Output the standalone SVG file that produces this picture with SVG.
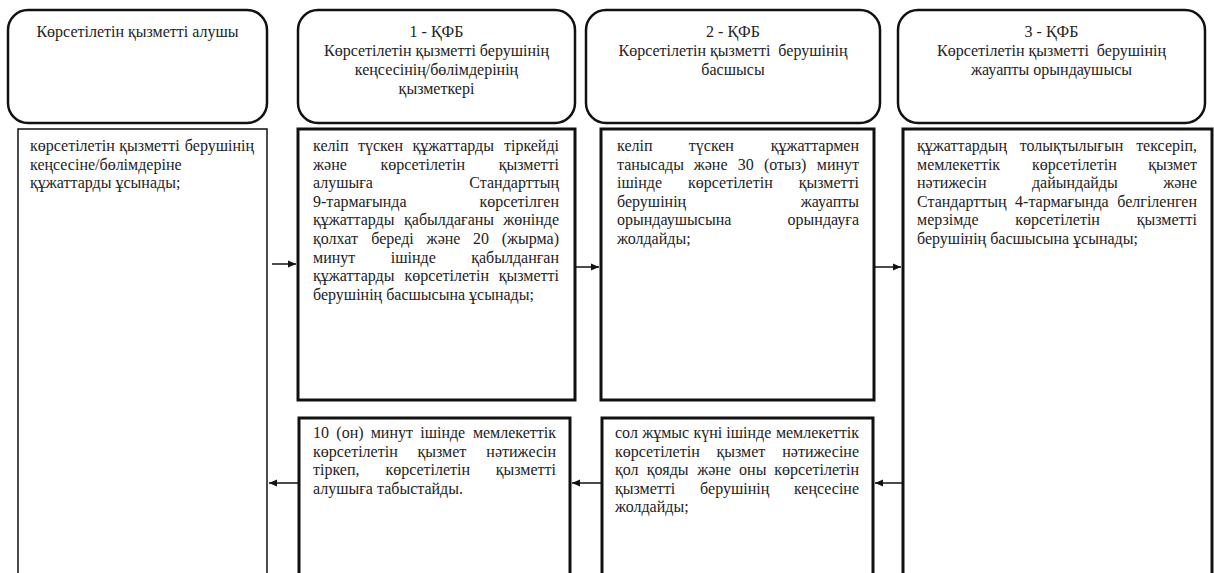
<svg xmlns="http://www.w3.org/2000/svg" width="1214" height="573" viewBox="0 0 1214 573">
<style>
.hdr{fill:#fff;stroke:#111;stroke-width:2.5}
.box{fill:#fff;stroke:#111;stroke-width:3}
.thin{stroke-width:1.5}
.t{font-family:"Liberation Serif","Times New Roman",serif;font-size:16px;fill:#222;white-space:pre}
.c{text-anchor:middle}
.con line{stroke:#111;stroke-width:1.5;marker-end:url(#ah)}
</style>
<defs>
<marker id="ah" markerWidth="8" markerHeight="8" refX="8" refY="4" orient="auto" markerUnits="userSpaceOnUse"><path d="M0,0.5 L8,4 L0,7.5 z" fill="#111"/></marker>
</defs>
<rect width="1214" height="573" fill="#fff"/>

<g id="h1">
<rect class="hdr" x="8" y="10" width="259" height="113" rx="20"/>
<text class="t c" x="137.5" y="37">Көрсетілетін қызметті алушы</text>
</g>
<g id="h2">
<rect class="hdr" x="298" y="10" width="277" height="113" rx="20"/>
<text class="t c" x="436.5" y="37">1 - ҚФБ</text>
<text class="t c" x="436.5" y="56">Көрсетілетін қызметті берушінің</text>
<text class="t c" x="436.5" y="75">кеңсесінің/бөлімдерінің</text>
<text class="t c" x="436.5" y="94">қызметкері</text>
</g>
<g id="h3">
<rect class="hdr" x="586" y="10" width="294" height="113" rx="20"/>
<text class="t c" x="733" y="37">2 - ҚФБ</text>
<text class="t c" x="733" y="56">Көрсетілетін қызметті  берушінің</text>
<text class="t c" x="733" y="75">басшысы</text>
</g>
<g id="h4">
<rect class="hdr" x="898" y="10" width="307" height="113" rx="20"/>
<text class="t c" x="1051.5" y="37">3 - ҚФБ</text>
<text class="t c" x="1051.5" y="56">Көрсетілетін қызметті  берушінің</text>
<text class="t c" x="1051.5" y="75">жауапты орындаушысы</text>
</g>

<g id="b1">
<rect class="box thin" x="18" y="129" width="249" height="460"/>
<text class="t" y="151"><tspan x="30">көрсетілетін</tspan><tspan x="119.3">қызметті</tspan><tspan x="254" text-anchor="end">берушінің</tspan></text>
<text class="t" x="30" y="169.6">кеңсесіне/бөлімдеріне</text>
<text class="t" x="30" y="188.2">құжаттарды ұсынады;</text>
</g>

<g id="b2">
<rect class="box" x="298" y="129" width="277" height="271"/>
<text class="t" y="151"><tspan x="313">келіп</tspan><tspan x="357.9">түскен</tspan><tspan x="412.5">құжаттарды</tspan><tspan x="559" text-anchor="end">тіркейді</tspan></text>
<text class="t" y="169.6"><tspan x="313">және</tspan><tspan x="380.4">көрсетілетін</tspan><tspan x="559" text-anchor="end">қызметті</tspan></text>
<text class="t" y="188.2"><tspan x="313">алушыға</tspan><tspan x="559" text-anchor="end">Стандарттың</tspan></text>
<text class="t" y="206.8"><tspan x="313">9-тармағында</tspan><tspan x="559" text-anchor="end">көрсетілген</tspan></text>
<text class="t" y="225.4"><tspan x="313">құжаттарды</tspan><tspan x="404.1">қабылдағаны</tspan><tspan x="559" text-anchor="end">жөнінде</tspan></text>
<text class="t" y="244"><tspan x="313">қолхат</tspan><tspan x="371.3">береді</tspan><tspan x="426.6">және</tspan><tspan x="472.9">20</tspan><tspan x="559" text-anchor="end">(жырма)</tspan></text>
<text class="t" y="262.6"><tspan x="313">минут</tspan><tspan x="390.8">ішінде</tspan><tspan x="559" text-anchor="end">қабылданған</tspan></text>
<text class="t" y="281.2"><tspan x="313">құжаттарды</tspan><tspan x="404.4">көрсетілетін</tspan><tspan x="559" text-anchor="end">қызметті</tspan></text>
<text class="t" x="313" y="299.8">берушінің басшысына ұсынады;</text>
</g>

<g id="b3">
<rect class="box" x="601" y="129" width="273" height="271"/>
<text class="t" y="151"><tspan x="617">келіп</tspan><tspan x="688.8">түскен</tspan><tspan x="859" text-anchor="end">құжаттармен</tspan></text>
<text class="t" y="169.6"><tspan x="617">танысады</tspan><tspan x="693.7">және</tspan><tspan x="737.7">30</tspan><tspan x="763.9">(отыз)</tspan><tspan x="859" text-anchor="end">минут</tspan></text>
<text class="t" y="188.2"><tspan x="617">ішінде</tspan><tspan x="688">көрсетілетін</tspan><tspan x="859" text-anchor="end">қызметті</tspan></text>
<text class="t" y="206.8"><tspan x="617">берушінің</tspan><tspan x="859" text-anchor="end">жауапты</tspan></text>
<text class="t" y="225.4"><tspan x="617">орындаушысына</tspan><tspan x="859" text-anchor="end">орындауға</tspan></text>
<text class="t" x="617" y="244">жолдайды;</text>
</g>

<g id="b4">
<rect class="box" x="903" y="129" width="309" height="460"/>
<text class="t" y="151"><tspan x="917">құжаттардың</tspan><tspan x="1019.8">толықтылығын</tspan><tspan x="1197" text-anchor="end">тексеріп,</tspan></text>
<text class="t" y="169.6"><tspan x="917">мемлекеттік</tspan><tspan x="1032">көрсетілетін</tspan><tspan x="1197" text-anchor="end">қызмет</tspan></text>
<text class="t" y="188.2"><tspan x="917">нәтижесін</tspan><tspan x="1031.9">дайындайды</tspan><tspan x="1197" text-anchor="end">және</tspan></text>
<text class="t" y="206.8"><tspan x="917">Стандарттың</tspan><tspan x="1015.1">4-тармағында</tspan><tspan x="1197" text-anchor="end">белгіленген</tspan></text>
<text class="t" y="225.4"><tspan x="917">мерзімде</tspan><tspan x="1015.2">көрсетілетін</tspan><tspan x="1197" text-anchor="end">қызметті</tspan></text>
<text class="t" x="917" y="244">берушінің басшысына ұсынады;</text>
</g>

<g id="b5">
<rect class="box" x="299" y="418" width="271" height="200"/>
<text class="t" y="438"><tspan x="313">10</tspan><tspan x="336.3">(он)</tspan><tspan x="370.7">минут</tspan><tspan x="420.2">ішінде</tspan><tspan x="556" text-anchor="end">мемлекеттік</tspan></text>
<text class="t" y="456.6"><tspan x="313">көрсетілетін</tspan><tspan x="417.5">қызмет</tspan><tspan x="556" text-anchor="end">нәтижесін</tspan></text>
<text class="t" y="475.2"><tspan x="313">тіркеп,</tspan><tspan x="385.4">көрсетілетін</tspan><tspan x="556" text-anchor="end">қызметті</tspan></text>
<text class="t" x="313" y="493.8">алушыға табыстайды.</text>
</g>

<g id="b6">
<rect class="box" x="602" y="418" width="271" height="200"/>
<text class="t" y="438"><tspan x="615">сол</tspan><tspan x="642.2">жұмыс</tspan><tspan x="693.4">күні</tspan><tspan x="726.3">ішінде</tspan><tspan x="859" text-anchor="end">мемлекеттік</tspan></text>
<text class="t" y="456.6"><tspan x="615">көрсетілетін</tspan><tspan x="716.4">қызмет</tspan><tspan x="859" text-anchor="end">нәтижесіне</tspan></text>
<text class="t" y="475.2"><tspan x="615">қол</tspan><tspan x="646.8">қояды</tspan><tspan x="697.2">және</tspan><tspan x="739.1">оны</tspan><tspan x="859" text-anchor="end">көрсетілетін</tspan></text>
<text class="t" y="493.8"><tspan x="615">қызметті</tspan><tspan x="700.1">берушінің</tspan><tspan x="859" text-anchor="end">кеңсесіне</tspan></text>
<text class="t" x="615" y="512.4">жолдайды;</text>
</g>

<g id="connectors" class="con">
<line x1="272" y1="264" x2="296" y2="264"/>
<line x1="575" y1="267" x2="599" y2="267"/>
<line x1="874" y1="267" x2="901" y2="267"/>
<line x1="903" y1="483" x2="875" y2="483"/>
<line x1="601" y1="483" x2="572" y2="483"/>
<line x1="298" y1="483" x2="269" y2="483"/>
</g>
</svg>
